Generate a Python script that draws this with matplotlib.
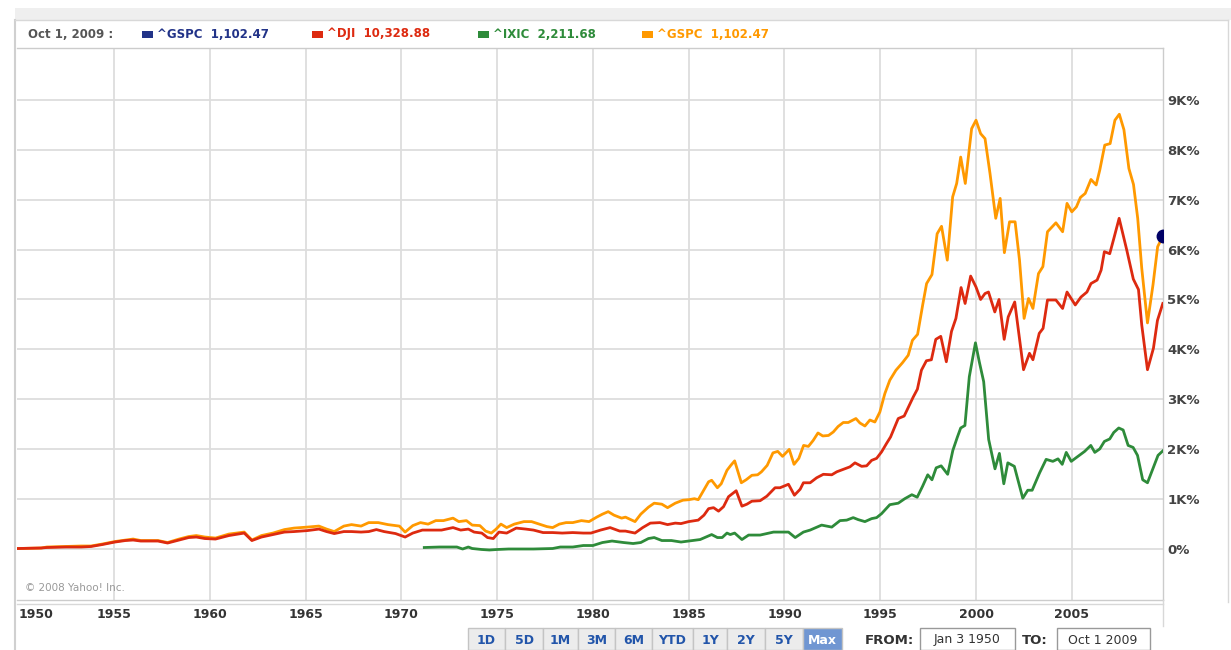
import matplotlib
matplotlib.use("Agg")
import matplotlib.pyplot as plt
from matplotlib.patches import Rectangle
from matplotlib.lines import Line2D

W, H = 1231, 650

# ^GSPC (S&P 500), % change since Jan 3 1950
spx_years = [
    1950.0, 1951.2, 1951.5, 1952.5, 1953.3, 1953.8, 1954.4, 1955.05, 1955.6, 1956.0,
    1956.4, 1957.3, 1957.8, 1958.4, 1958.9, 1959.3, 1959.75, 1960.3, 1961.0, 1961.8,
    1962.2, 1962.7, 1963.3, 1963.9, 1964.4, 1965.1, 1965.7, 1966.1, 1966.5, 1967.0,
    1967.4, 1967.9, 1968.3, 1968.8, 1969.3, 1969.9, 1970.2, 1970.6, 1971.0, 1971.4,
    1971.8, 1972.2, 1972.7, 1973.0, 1973.4, 1973.7, 1974.1, 1974.4, 1974.7, 1974.95,
    1975.2, 1975.5, 1975.9, 1976.4, 1976.8, 1977.2, 1977.6, 1977.9, 1978.25, 1978.6,
    1978.95, 1979.4, 1979.8, 1980.2, 1980.5, 1980.8, 1981.1, 1981.5, 1981.7, 1982.2,
    1982.5, 1982.9, 1983.2, 1983.6, 1983.9, 1984.3, 1984.7, 1985.0, 1985.3, 1985.5,
    1985.8, 1986.04, 1986.2, 1986.5, 1986.7, 1987.0, 1987.2, 1987.4, 1987.75, 1988.0,
    1988.3, 1988.6, 1988.8, 1989.1, 1989.4, 1989.65, 1989.9, 1990.25, 1990.5, 1990.75,
    1991.0, 1991.25, 1991.5, 1991.75, 1992.0, 1992.3, 1992.55, 1992.8, 1993.07, 1993.33,
    1993.73, 1993.94, 1994.2, 1994.46, 1994.72, 1994.98, 1995.24, 1995.5, 1995.82, 1996.16,
    1996.46, 1996.68, 1996.95, 1997.22, 1997.42, 1997.7, 1997.97, 1998.2, 1998.5, 1998.78,
    1998.99, 1999.2, 1999.44, 1999.77, 2000.0, 2000.24, 2000.47, 2000.73, 2001.03, 2001.26,
    2001.48, 2001.75, 2002.04, 2002.27, 2002.51, 2002.74, 2002.97, 2003.26, 2003.49, 2003.73,
    2004.17, 2004.52, 2004.75, 2005.0, 2005.24, 2005.45, 2005.7, 2006.0, 2006.27, 2006.46,
    2006.72, 2007.0, 2007.25, 2007.48, 2007.72, 2007.98, 2008.22, 2008.44, 2008.65, 2008.95,
    2009.24, 2009.48, 2009.75,
]
spx_pct = [
    0, 10, 30, 40, 50, 50, 90, 140, 170, 190,
    160, 160, 120, 190, 240, 260, 230, 210, 290, 330,
    170, 260, 310, 380, 410, 430, 450, 390, 340, 450,
    480, 450, 520, 520, 480, 450, 330, 460, 520, 490,
    560, 560, 610, 540, 560, 470, 460, 350, 310, 390,
    490, 420, 490, 540, 540, 490, 440, 420, 490, 520,
    520, 560, 540, 630, 690, 740, 670, 610, 630, 540,
    690, 830, 910, 890, 820, 910, 970, 980, 1000, 980,
    1180, 1340, 1370, 1220, 1300, 1570, 1670, 1760, 1320, 1380,
    1470, 1480, 1540, 1670, 1920, 1950, 1850, 1990, 1690, 1810,
    2070, 2050, 2170, 2320, 2260, 2270, 2340, 2450, 2530, 2530,
    2610, 2520, 2460, 2580, 2540, 2740, 3110, 3380, 3580, 3730,
    3880, 4180, 4300, 4900, 5320, 5500, 6320, 6470, 5790, 7060,
    7330, 7860, 7330, 8430, 8600, 8330, 8230, 7530, 6630, 7030,
    5940, 6560, 6560, 5790, 4620, 5020, 4820, 5520, 5660, 6360,
    6540, 6360, 6930, 6760, 6860, 7050, 7130, 7410, 7300, 7600,
    8100, 8130, 8600, 8720, 8410, 7630, 7310, 6630, 5630, 4530,
    5300, 6060, 6270,
]

# ^DJI, % change since Jan 3 1950
dji_years = [
    1950.0, 1951.2, 1951.5, 1952.5, 1953.3, 1953.8, 1954.4, 1955.05, 1955.6, 1956.0,
    1956.4, 1957.3, 1957.8, 1958.4, 1958.9, 1959.3, 1959.75, 1960.3, 1961.0, 1961.8,
    1962.2, 1962.7, 1963.3, 1963.9, 1964.4, 1965.1, 1965.7, 1966.1, 1966.5, 1967.0,
    1967.4, 1967.9, 1968.3, 1968.7, 1969.1, 1969.7, 1970.2, 1970.6, 1971.1, 1971.6,
    1972.1, 1972.7, 1973.1, 1973.5, 1973.8, 1974.2, 1974.5, 1974.8, 1975.1, 1975.5,
    1976.0, 1976.5, 1976.9, 1977.4, 1977.9, 1978.4, 1978.95, 1979.5, 1979.9, 1980.4,
    1980.9, 1981.4, 1981.7, 1982.2, 1982.6, 1983.0, 1983.5, 1983.9, 1984.3, 1984.6,
    1985.0, 1985.5, 1985.8, 1986.04, 1986.3, 1986.56, 1986.82, 1987.08, 1987.48, 1987.78,
    1988.04, 1988.3, 1988.73, 1989.08, 1989.51, 1989.77, 1990.21, 1990.52, 1990.82, 1990.99,
    1991.34, 1991.68, 1992.03, 1992.47, 1992.73, 1993.07, 1993.42, 1993.68, 1994.03, 1994.29,
    1994.55, 1994.81, 1995.07, 1995.33, 1995.54, 1995.94, 1996.25, 1996.55, 1996.72, 1996.94,
    1997.15, 1997.41, 1997.67, 1997.9, 1998.16, 1998.45, 1998.72, 1998.95, 1999.22, 1999.43,
    1999.72, 2000.0, 2000.24, 2000.47, 2000.65, 2000.98, 2001.2, 2001.47, 2001.68, 2002.02,
    2002.48, 2002.79, 2002.97, 2003.3, 2003.5, 2003.73, 2004.17, 2004.52, 2004.75, 2005.18,
    2005.48, 2005.79, 2006.0, 2006.32, 2006.53, 2006.7, 2006.98, 2007.19, 2007.47, 2007.87,
    2008.21, 2008.48, 2008.65, 2008.95, 2009.26, 2009.47, 2009.75,
]
dji_pct = [
    0, 10, 20, 30, 30, 40, 80, 130, 160, 170,
    150, 150, 110, 170, 220, 230, 200, 190, 260, 310,
    160, 230, 280, 330, 340, 360, 390, 340, 300, 340,
    340, 330, 340, 380, 340, 300, 230, 310, 370, 370,
    370, 420, 370, 390, 330, 310, 220, 200, 330, 310,
    410, 390, 370, 320, 320, 310, 320, 310, 310, 370,
    420, 350, 350, 310, 420, 510, 520, 480, 510, 500,
    540, 570, 670, 800, 820, 750, 840, 1040, 1160, 850,
    890, 950, 960, 1050, 1220, 1220, 1290, 1070, 1190, 1320,
    1320, 1420, 1490, 1480, 1540, 1590, 1640, 1720, 1650, 1660,
    1770, 1810, 1940, 2110, 2240, 2610, 2660, 2900, 3040, 3200,
    3580, 3770, 3790, 4200, 4260, 3750, 4360, 4620, 5240, 4920,
    5470, 5250, 5000, 5120, 5150, 4750, 5000, 4200, 4650, 4950,
    3590, 3920, 3790, 4320, 4420, 4990, 4990, 4820, 5150, 4890,
    5050, 5150, 5320, 5390, 5590, 5960, 5920, 6220, 6630, 5990,
    5410, 5200, 4490, 3590, 4020, 4580, 4920,
]

# ^IXIC (Nasdaq), % change since its first close in 1971
ixic_years = [
    1971.2, 1972.0, 1972.9, 1973.2, 1973.5, 1973.7, 1974.2, 1974.6, 1975.0, 1975.6,
    1976.9, 1977.9, 1978.3, 1978.95, 1979.5, 1980.0, 1980.5, 1981.0, 1981.6, 1982.1,
    1982.5, 1982.9, 1983.2, 1983.6, 1984.1, 1984.6, 1985.2, 1985.6, 1985.9, 1986.2,
    1986.5, 1986.75, 1987.0, 1987.17, 1987.4, 1987.78, 1988.13, 1988.73, 1989.43, 1990.21,
    1990.56, 1990.99, 1991.34, 1991.94, 1992.47, 1992.9, 1993.25, 1993.59, 1993.85, 1994.2,
    1994.55, 1994.81, 1995.07, 1995.5, 1995.94, 1996.28, 1996.65, 1996.93, 1997.21, 1997.48,
    1997.7, 1997.92, 1998.18, 1998.52, 1998.79, 1999.02, 1999.2, 1999.42, 1999.65, 1999.97,
    2000.17, 2000.4, 2000.66, 2000.99, 2001.22, 2001.45, 2001.66, 2002.0, 2002.44, 2002.7,
    2002.93, 2003.32, 2003.66, 2004.01, 2004.28, 2004.5, 2004.71, 2004.97, 2005.32, 2005.67,
    2005.99, 2006.2, 2006.46, 2006.7, 2006.98, 2007.19, 2007.45, 2007.68, 2007.94, 2008.2,
    2008.43, 2008.7, 2008.95, 2009.25, 2009.5, 2009.75,
]
ixic_pct = [
    20, 30, 30, -10, 30, 0, -20, -30, -20, -10,
    -10, 0, 30, 30, 60, 60, 120, 150, 120, 100,
    120, 200, 220, 160, 160, 130, 160, 180, 230, 280,
    220, 220, 310, 280, 310, 180, 270, 270, 330, 330,
    220, 330, 370, 470, 430, 560, 570, 620, 580, 540,
    600, 620, 700, 880, 910, 1000, 1080, 1030, 1250, 1480,
    1380, 1620, 1660, 1490, 1970, 2230, 2420, 2470, 3450, 4130,
    3750, 3350, 2190, 1600, 1910, 1300, 1720, 1650, 1010, 1170,
    1170, 1520, 1790, 1750, 1800, 1690, 1930, 1750, 1850, 1950,
    2070, 1930, 2000, 2150, 2200, 2330, 2420, 2380, 2070, 2030,
    1870, 1380, 1320, 1620, 1870, 1960,
]

legend_items = [
    ("^GSPC", "1,102.47", "#223388"),
    ("^DJI", "10,328.88", "#dd2a10"),
    ("^IXIC", "2,211.68", "#2e8b3a"),
    ("^GSPC", "1,102.47", "#ff9900"),
]
legend_x = [142, 312, 478, 642]

year_ticks = [1950, 1955, 1960, 1965, 1970, 1975, 1980, 1985, 1990, 1995, 2000, 2005]
pct_ticks = [0, 1000, 2000, 3000, 4000, 5000, 6000, 7000, 8000, 9000]
pct_labels = ["0%", "1K%", "2K%", "3K%", "4K%", "5K%", "6K%", "7K%", "8K%", "9K%"]

range_buttons = ["1D", "5D", "1M", "3M", "6M", "YTD", "1Y", "2Y", "5Y", "Max"]
button_edges = [468, 505, 543, 578, 615, 652, 693, 727, 765, 803, 842]


def fx(px):
    return px / W


def fy(py):
    return 1 - py / H


fig = plt.figure(figsize=(W / 100, H / 100), dpi=100)
fig.patch.set_facecolor("white")

# outer chrome
fig.patches.append(Rectangle((fx(15), fy(20)), fx(1231) - fx(15), fy(8) - fy(20),
                             transform=fig.transFigure, facecolor="#efefef", edgecolor="none"))
fig.add_artist(Line2D([fx(15), fx(15)], [fy(20), fy(650)], color="#d0d0d0", lw=1.5))
fig.add_artist(Line2D([fx(15), fx(1228)], [fy(20), fy(20)], color="#d8d8d8", lw=1))
fig.add_artist(Line2D([fx(1228), fx(1228)], [fy(20), fy(602)], color="#d8d8d8", lw=1))
fig.add_artist(Line2D([fx(17), fx(1163)], [fy(604), fy(604)], color="#d8d8d8", lw=1))
fig.add_artist(Line2D([fx(1163), fx(1163)], [fy(600), fy(626)], color="#d8d8d8", lw=1))

ax = fig.add_axes([fx(17), fy(600), fx(1163) - fx(17), fy(48) - fy(600)])
ax.set_xlim(1949.94, 2009.76)
ax.set_ylim(-1034, 10050)

ax.plot(spx_years, spx_pct, color="#ff9900", lw=2.0, zorder=3, solid_joinstyle="round")
ax.plot(dji_years, dji_pct, color="#dd2a10", lw=2.0, zorder=4, solid_joinstyle="round")
ax.plot(ixic_years, ixic_pct, color="#2e8b3a", lw=2.0, zorder=4, solid_joinstyle="round")
# end-point marker, cut by the plot edge like the original
ax.plot([spx_years[-1]], [spx_pct[-1]], "o", color="#000066", ms=9, zorder=6)

ax.set_xticks(year_ticks)
ax.set_xticklabels([str(y) for y in year_ticks], fontsize=9, fontweight="bold", color="#333333")
ax.get_xticklabels()[0].set_horizontalalignment("left")
ax.tick_params(axis="x", length=0, pad=6)

ax.yaxis.tick_right()
ax.set_yticks(pct_ticks)
ax.set_yticklabels(pct_labels, fontsize=9.5, fontweight="bold", color="#444444")
ax.tick_params(axis="y", length=0, pad=3)

for y in year_ticks[1:]:
    ax.axvline(y, color="#dddddd", lw=1.3, zorder=1)
for v in pct_ticks:
    ax.axhline(v, color="#dddddd", lw=1.3, zorder=1)

for s in ax.spines.values():
    s.set_color("#cccccc")
    s.set_linewidth(1)
ax.spines["left"].set_visible(False)

ax.text(0.007, 0.012, "\u00a9 2008 Yahoo! Inc.", transform=ax.transAxes,
        fontsize=7.5, color="#999999", va="bottom", ha="left")

# legend bar
fig.text(fx(28), fy(34), "Oct 1, 2009 :", fontsize=8.5, fontweight="bold",
         color="#555555", va="center", ha="left")
for (name, val, col), lx in zip(legend_items, legend_x):
    fig.patches.append(Rectangle((fx(lx), fy(38)), fx(11), fy(31) - fy(38),
                                 transform=fig.transFigure, facecolor=col, edgecolor="none"))
    fig.text(fx(lx + 15), fy(34), name + "  " + val, fontsize=8.5, fontweight="bold",
             color=col, va="center", ha="left")

# range buttons
for i, lab in enumerate(range_buttons):
    x0, x1 = button_edges[i], button_edges[i + 1]
    sel = lab == "Max"
    fig.patches.append(Rectangle((fx(x0), fy(650)), fx(x1 - x0), fy(628) - fy(650),
                                 transform=fig.transFigure,
                                 facecolor="#7096d2" if sel else "#ececec",
                                 edgecolor="#c4c4c4", lw=1))
    fig.text(fx((x0 + x1) / 2), fy(640), lab, fontsize=9, fontweight="bold",
             color="white" if sel else "#2255aa", ha="center", va="center")

fig.text(fx(865), fy(640), "FROM:", fontsize=9.5, fontweight="bold", color="#333333",
         ha="left", va="center")
fig.patches.append(Rectangle((fx(920), fy(650)), fx(95), fy(628) - fy(650),
                             transform=fig.transFigure, facecolor="white",
                             edgecolor="#999999", lw=1))
fig.text(fx(967), fy(640), "Jan 3 1950", fontsize=9, color="#333333", ha="center", va="center")
fig.text(fx(1022), fy(640), "TO:", fontsize=9.5, fontweight="bold", color="#333333",
         ha="left", va="center")
fig.patches.append(Rectangle((fx(1057), fy(650)), fx(93), fy(628) - fy(650),
                             transform=fig.transFigure, facecolor="white",
                             edgecolor="#999999", lw=1))
fig.text(fx(1103), fy(640), "Oct 1 2009", fontsize=9, color="#333333", ha="center", va="center")

fig.savefig("out.png", dpi=100)
